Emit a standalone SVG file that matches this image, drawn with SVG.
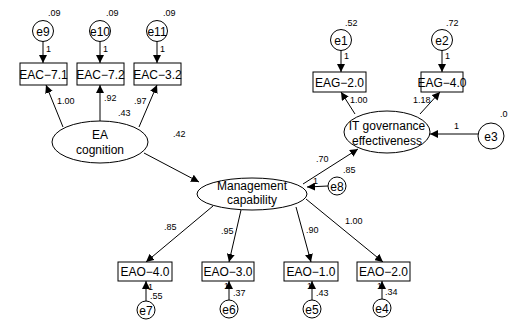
<svg xmlns="http://www.w3.org/2000/svg" width="509" height="320" viewBox="0 0 509 320">
<defs>
<marker id="ah" viewBox="0 0 10 10" refX="10" refY="5" markerWidth="8" markerHeight="8" markerUnits="userSpaceOnUse" orient="auto">
<path d="M0,0 L10,5 L0,10 z" fill="#000"/>
</marker>
<style>
.s{fill:#fff;stroke:#000;stroke-width:1}
.t{font-family:"Liberation Sans",Arial,sans-serif;font-size:12px;fill:#000;text-anchor:middle}
.e{font-family:"Liberation Sans",Arial,sans-serif;font-size:12px;fill:#000;text-anchor:middle}
.l{font-family:"Liberation Sans",Arial,sans-serif;font-size:9px;fill:#000}
.c{stroke:#000;stroke-width:1;fill:none;marker-end:url(#ah)}
</style>
</defs>
<rect width="509" height="320" fill="#fff"/>
<g id="connectors">
<line class="c" x1="43" y1="41" x2="43" y2="63"/>
<line class="c" x1="100" y1="41" x2="100" y2="63"/>
<line class="c" x1="157" y1="41" x2="157" y2="63"/>
<line class="c" x1="63" y1="127" x2="46" y2="85"/>
<line class="c" x1="100" y1="121" x2="100" y2="85"/>
<line class="c" x1="139" y1="127" x2="157" y2="85"/>
<line class="c" x1="144" y1="153" x2="199" y2="182"/>
<line class="c" x1="341" y1="50" x2="341" y2="72"/>
<line class="c" x1="442" y1="50" x2="442" y2="72"/>
<line class="c" x1="355" y1="114" x2="341" y2="92"/>
<line class="c" x1="420" y1="114" x2="440" y2="92"/>
<line class="c" x1="478" y1="134" x2="430" y2="134"/>
<line class="c" x1="303" y1="184" x2="358" y2="149"/>
<line class="c" x1="328" y1="186" x2="307" y2="187"/>
<line class="c" x1="213" y1="206" x2="146" y2="262"/>
<line class="c" x1="241" y1="210" x2="229" y2="262"/>
<line class="c" x1="296" y1="207" x2="311" y2="262"/>
<line class="c" x1="306" y1="199" x2="383" y2="262"/>
<line class="c" x1="146" y1="301" x2="146" y2="281"/>
<line class="c" x1="229" y1="300" x2="229" y2="281"/>
<line class="c" x1="312" y1="300" x2="312" y2="281"/>
<line class="c" x1="382" y1="299" x2="382" y2="281"/>
</g>
<g id="e9"><circle class="s" cx="43" cy="31" r="10.5"/><text class="e" x="43" y="35.5">e9</text><text class="l" x="48" y="16">.09</text></g>
<g id="e10"><circle class="s" cx="100" cy="31" r="10.5"/><text class="e" x="100" y="35.5">e10</text><text class="l" x="106" y="16">.09</text></g>
<g id="e11"><circle class="s" cx="157" cy="31" r="10.5"/><text class="e" x="157" y="35.5">e11</text><text class="l" x="163" y="16">.09</text></g>
<g id="EAC71"><rect class="s" x="20" y="63" width="47" height="22"/><text class="t" x="43.5" y="78.5">EAC−7.1</text></g>
<g id="EAC72"><rect class="s" x="77" y="63" width="47" height="22"/><text class="t" x="100.5" y="78.5">EAC−7.2</text></g>
<g id="EAC32"><rect class="s" x="134" y="63" width="47" height="22"/><text class="t" x="157.5" y="78.5">EAC−3.2</text></g>
<g id="EAcognition"><ellipse class="s" cx="100" cy="142" rx="48" ry="21"/><text class="t" x="100" y="139">EA</text><text class="t" x="100" y="154">cognition</text></g>
<g id="Management"><ellipse class="s" cx="252" cy="194" rx="55" ry="16"/><text class="t" x="252" y="190">Management</text><text class="t" x="252" y="204">capability</text></g>
<g id="ITgov"><ellipse class="s" cx="387" cy="132" rx="43" ry="21"/><text class="t" x="387" y="130">IT governance</text><text class="t" x="387" y="145">effectiveness</text></g>
<g id="e1"><circle class="s" cx="341" cy="40" r="10.5"/><text class="e" x="341" y="44.5">e1</text><text class="l" x="345" y="26">.52</text></g>
<g id="e2"><circle class="s" cx="442" cy="40" r="10.5"/><text class="e" x="442" y="44.5">e2</text><text class="l" x="446" y="26">.72</text></g>
<g id="EAG20"><rect class="s" x="313" y="72" width="53" height="20"/><text class="t" x="339.5" y="86.5">EAG−2.0</text></g>
<g id="EAG40"><rect class="s" x="421" y="72" width="42" height="20"/><text class="t" x="442" y="86.5">EAG−4.0</text></g>
<g id="e3"><circle class="s" cx="491" cy="136" r="13"/><text class="e" x="491" y="140.5">e3</text><text class="l" x="500" y="117">.0</text></g>
<g id="e8"><circle class="s" cx="337" cy="186" r="9"/><text class="e" x="337" y="190.5">e8</text><text class="l" x="343" y="173">.85</text></g>
<g id="EAO40"><rect class="s" x="118" y="262" width="54" height="19"/><text class="t" x="145" y="276">EAO−4.0</text></g>
<g id="EAO30"><rect class="s" x="202" y="262" width="52" height="19"/><text class="t" x="228" y="276">EAO−3.0</text></g>
<g id="EAO10"><rect class="s" x="284" y="262" width="54" height="19"/><text class="t" x="311" y="276">EAO−1.0</text></g>
<g id="EAO20"><rect class="s" x="357" y="262" width="53" height="19"/><text class="t" x="383.5" y="276">EAO−2.0</text></g>
<g id="e7"><circle class="s" cx="146" cy="310" r="9"/><text class="e" x="146" y="314.5">e7</text><text class="l" x="150" y="299">.55</text></g>
<g id="e6"><circle class="s" cx="229" cy="309" r="9"/><text class="e" x="229" y="313.5">e6</text><text class="l" x="233" y="296">.37</text></g>
<g id="e5"><circle class="s" cx="312" cy="309" r="9"/><text class="e" x="312" y="313.5">e5</text><text class="l" x="316" y="296">.43</text></g>
<g id="e4"><circle class="s" cx="382" cy="308" r="9"/><text class="e" x="382" y="312.5">e4</text><text class="l" x="385" y="295">.34</text></g>
<g id="labels">
<text class="l" x="46" y="52">1</text>
<text class="l" x="103" y="52">1</text>
<text class="l" x="160" y="52">1</text>
<text class="l" x="57" y="104">1.00</text>
<text class="l" x="104" y="101">.92</text>
<text class="l" x="134" y="104">.97</text>
<text class="l" x="118" y="116">.43</text>
<text class="l" x="173" y="137">.42</text>
<text class="l" x="344" y="59">1</text>
<text class="l" x="445" y="59">1</text>
<text class="l" x="350" y="103">1.00</text>
<text class="l" x="413" y="103">1.18</text>
<text class="l" x="454" y="129">1</text>
<text class="l" x="316" y="162">.70</text>
<text class="l" x="313" y="184">1</text>
<text class="l" x="164" y="230">.85</text>
<text class="l" x="221" y="234">.95</text>
<text class="l" x="306" y="233">.90</text>
<text class="l" x="345" y="224">1.00</text>
<text class="l" x="148" y="290">1</text>
<text class="l" x="224" y="289">1</text>
<text class="l" x="307" y="289">1</text>
<text class="l" x="377" y="289">1</text>
</g>
</svg>
